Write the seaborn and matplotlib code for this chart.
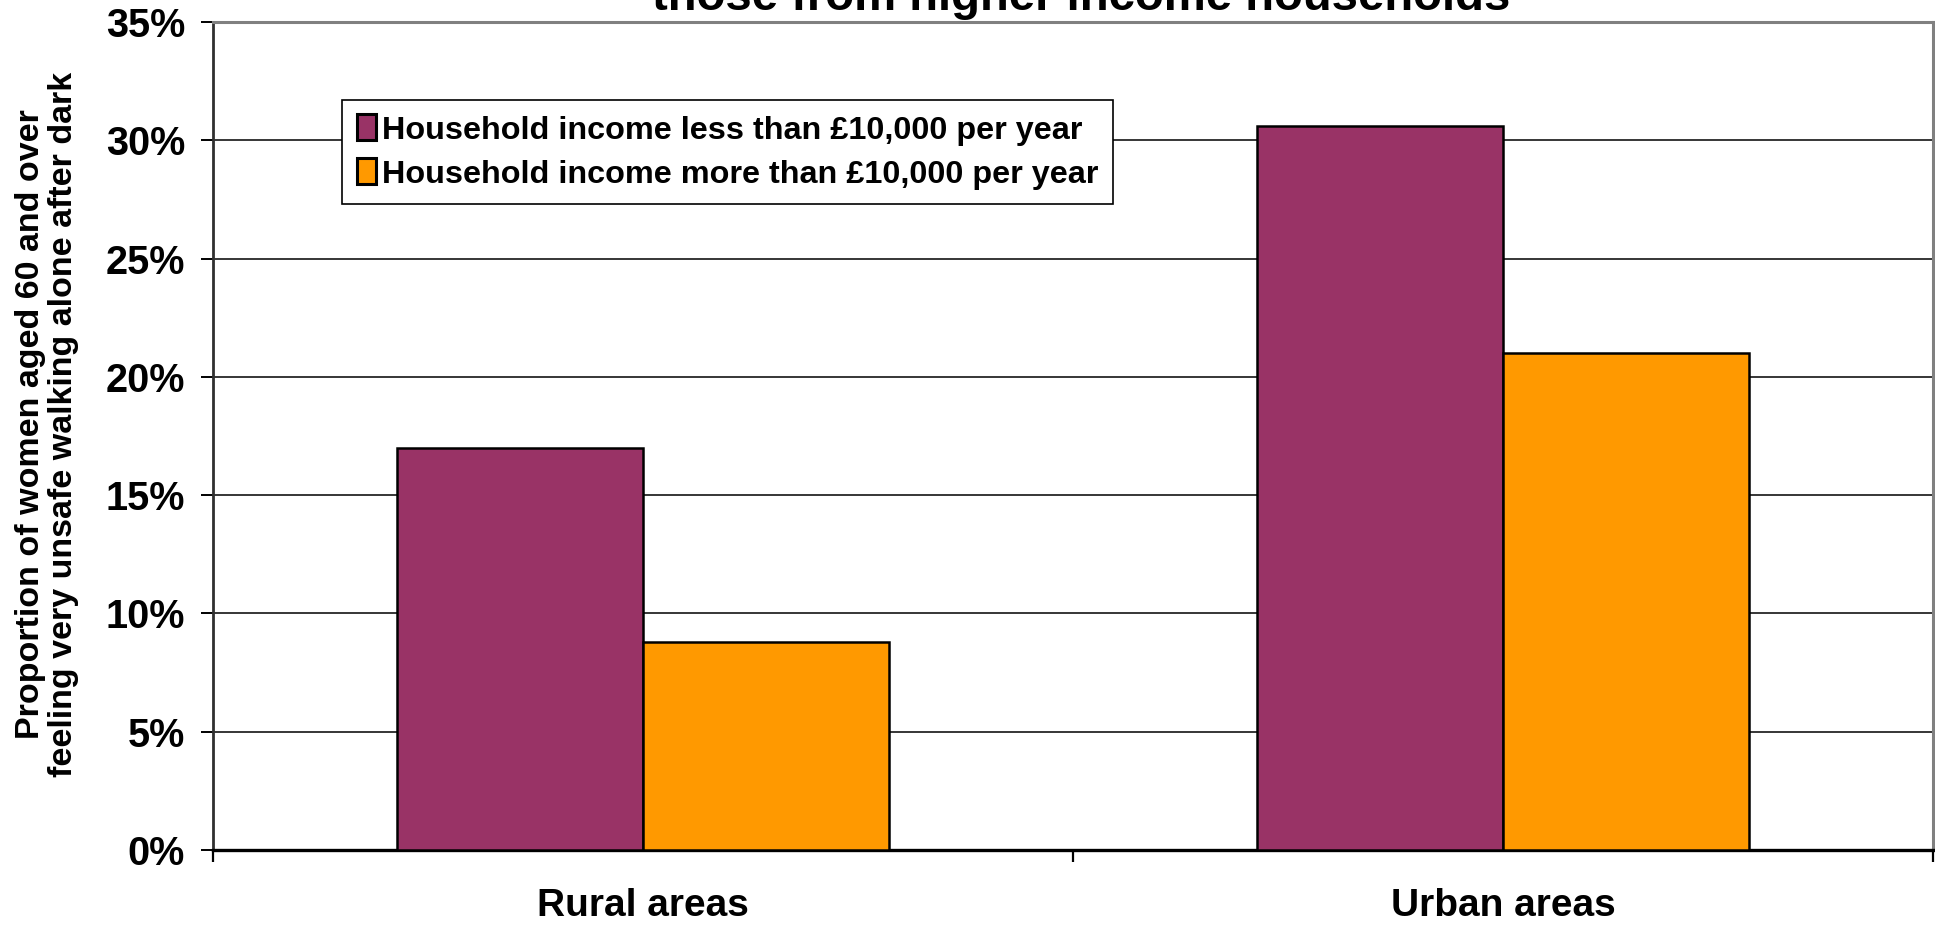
#!/usr/bin/env python3
"""Bar chart: women 60+ feeling very unsafe walking alone after dark, by income and area."""
import matplotlib
matplotlib.use("Agg")
import matplotlib.pyplot as plt
import pandas as pd
import seaborn as sns
from matplotlib.ticker import FuncFormatter, FixedLocator

AREAS = ["Rural areas", "Urban areas"]
INCOME_GROUPS = [
    "Household income less than £10,000 per year",
    "Household income more than £10,000 per year",
]
LOW_INCOME = [0.170, 0.306]
HIGH_INCOME = [0.088, 0.210]
COLOURS = ["#993366", "#FF9900"]

TITLE = "those from higher income households"
YLABEL = "Proportion of women aged 60 and over\nfeeling very unsafe walking alone after dark"


def main() -> None:
    sns.set_theme(style="white")
    plt.rcParams["font.family"] = ["Liberation Sans", "DejaVu Sans"]
    plt.rcParams["font.weight"] = "bold"
    for key in ("text.color", "axes.labelcolor", "xtick.color", "ytick.color"):
        plt.rcParams[key] = "black"

    df = pd.DataFrame({
        "area": AREAS * 2,
        "income": [INCOME_GROUPS[0]] * 2 + [INCOME_GROUPS[1]] * 2,
        "value": LOW_INCOME + HIGH_INCOME,
    })

    W, H = 1935, 925
    fig = plt.figure(figsize=(W / 100, H / 100), dpi=100)
    ax = fig.add_axes([213 / W, (H - 850) / H, (1933 - 213) / W, (850 - 22) / H])

    sns.barplot(data=df, x="area", y="value", hue="income", hue_order=INCOME_GROUPS,
                palette=COLOURS, saturation=1, width=0.572, gap=0,
                edgecolor="black", linewidth=1.8, ax=ax, zorder=3)

    ax.set_xlim(-0.5, 1.5)
    ax.set_ylim(0, 0.35)
    ax.set_yticks([i * 0.05 for i in range(8)])
    ax.yaxis.set_major_formatter(FuncFormatter(lambda v, _: f"{v * 100:.0f}%"))
    ax.yaxis.grid(True, color="black", linewidth=1.1, zorder=0)
    ax.set_axisbelow(True)

    for side in ("top", "right"):
        ax.spines[side].set_color("#808080")
        ax.spines[side].set_linewidth(2.2)
    ax.spines["left"].set_color("#303030")
    ax.spines["left"].set_linewidth(2)
    ax.spines["bottom"].set_color("black")
    ax.spines["bottom"].set_linewidth(2.4)

    ax.xaxis.set_minor_locator(FixedLocator([-0.5, 0.5, 1.5]))
    ax.tick_params(axis="x", which="major", length=0, pad=27, labelsize=28)
    ax.tick_params(axis="x", which="minor", length=8.6, width=1.6, color="black", bottom=True)
    ax.tick_params(axis="y", which="major", length=8.6, width=1.4, color="black",
                   left=True, pad=11.5, labelsize=28.5)
    for lab in ax.get_xticklabels() + ax.get_yticklabels():
        lab.set_fontweight("bold")
        lab.set_color("black")

    ax.set_xlabel("")
    ax.set_ylabel(YLABEL, fontsize=24.5, fontweight="bold", color="black",
                  va="center", linespacing=1.08)
    ax.yaxis.set_label_coords(-0.0965, 0.514)

    leg = ax.legend(loc="upper left", bbox_to_anchor=(0.075, 0.906), fontsize=23.3,
                    frameon=True, fancybox=False, shadow=False, framealpha=1,
                    edgecolor="black", handlelength=0.6, handleheight=0.85,
                    handletextpad=0.2, borderpad=0.45, labelspacing=0.4,
                    borderaxespad=0)
    leg.get_frame().set_linewidth(1.2)
    for txt in leg.get_texts():
        txt.set_fontweight("bold")
        txt.set_color("black")
    for patch in leg.get_patches():
        patch.set_linewidth(2.2)

    # the reference shows only the lower part of the title's last line
    fig.text(1081 / W, 1 - 10 / H, TITLE, ha="center", va="baseline",
             fontsize=34, fontweight="bold", color="black")

    fig.savefig("out.png", dpi=100, facecolor="white")
    plt.close(fig)


if __name__ == "__main__":
    main()
